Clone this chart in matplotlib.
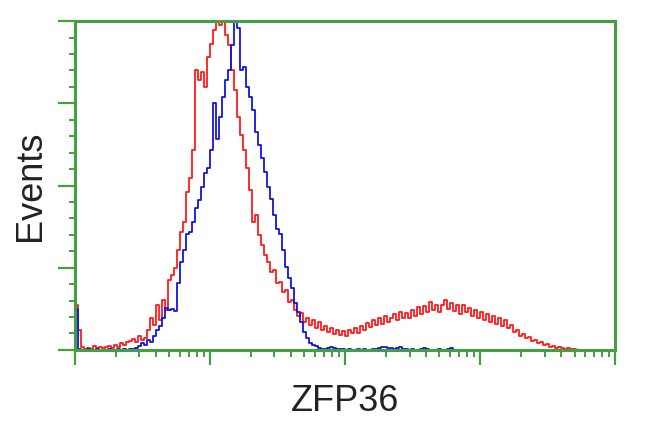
import numpy as np
import matplotlib
matplotlib.use("Agg")
import matplotlib.pyplot as plt
from matplotlib.ticker import LogLocator, MultipleLocator, NullFormatter

# histogram counts (% of max), one value per log-spaced channel bin, 4 decades / 180 bins
red_counts = [
    13.7, 6.1, 0.9, 0.3, 0.6, 0.3, 1.2, 0.6, 0.9, 0.6,
    0.9, 1.2, 0.6, 1.5, 0.9, 2.1, 1.5, 2.4, 2.7, 3.3,
    2.4, 4.3, 3.0, 3.6, 6.1, 9.7, 7.6, 13.7, 9.1, 15.2,
    12.2, 21.3, 22.8, 24.9, 30.4, 35.9, 38.9, 48.0, 52.3, 60.8,
    85.0, 82.1, 84.5, 80.0, 89.0, 93.0, 97.3, 102, 98.8, 102,
    95.7, 92.7, 85.1, 79.0, 70.8, 65.3, 60.8, 55.3, 48.6, 38.9,
    41.0, 35.0, 31.9, 28.9, 26.7, 23.7, 24.3, 20.4, 20.7, 17.6,
    18.2, 14.6, 15.2, 12.2, 10.3, 11.2, 8.5, 9.7, 7.6, 9.1,
    6.7, 8.5, 6.1, 7.3, 5.5, 6.7, 4.9, 6.1, 4.6, 5.8,
    4.3, 6.1, 5.2, 6.7, 5.2, 7.3, 6.1, 8.2, 7.0, 9.1,
    7.6, 9.7, 7.9, 10.3, 8.5, 9.7, 10.9, 9.1, 11.6, 9.7,
    11.2, 9.7, 12.2, 10.3, 13.1, 10.9, 13.4, 11.6, 14.6, 12.2,
    13.7, 11.6, 13.7, 15.2, 12.5, 14.3, 11.9, 13.7, 10.9, 13.7,
    11.6, 12.8, 10.3, 12.2, 9.7, 11.6, 9.1, 10.9, 8.5, 10.3,
    7.9, 9.7, 7.3, 9.1, 6.7, 7.6, 5.5, 6.1, 4.3, 4.9,
    3.6, 4.0, 2.7, 3.0, 2.1, 2.4, 1.5, 1.8, 0.9, 1.2,
    0.6, 0.9, 0.6, 0.3, 0.6, 0.3, 0.2, 0.0,
]

blue_counts = [
    12.5, 0.3, 0.0, 0.0, 0.2, 0.0, 0.0, 0.2, 0.0, 0.0,
    0.0, 0.2, 0.0, 0.0, 0.2, 0.0, 0.2, 0.0, 0.3, 0.3,
    0.6, 1.2, 2.1, 1.5, 3.0, 2.4, 4.3, 6.1, 7.3, 9.7,
    12.8, 12.2, 12.5, 11.9, 20.4, 26.7, 30.4, 35.3, 35.9, 38.9,
    43.2, 45.6, 49.5, 53.8, 55.3, 60.8, 75.0, 64.1, 70.8, 76.9,
    82.1, 85.1, 92.7, 102, 98.0, 85.1, 86.0, 80.0, 76.9, 72.9,
    66.3, 62.3, 58.4, 54.1, 49.5, 45.9, 41.0, 36.8, 35.3, 30.4,
    25.2, 21.9, 18.8, 14.3, 11.6, 8.5, 5.5, 3.6, 2.1, 1.5,
    1.2, 0.6, 0.3, 0.3, 0.6, 0.9, 0.6, 0.3, 0.2, 0.2,
    0.0, 0.2, 0.0, 0.0, 0.2, 0.0, 0.2, 0.0, 0.0, 0.2,
    0.3, 0.6, 0.9, 0.9, 0.6, 0.6, 0.3, 0.6, 0.9, 0.3,
    0.2, 0.0, 0.3, 0.0, 0.0, 0.2, 0.6, 0.3, 0.0, 0.0,
    0.0, 0.2, 0.0, 0.0, 0.3, 0.5, 0.0, 0.0,
]

n_bins = 180
decades = 4
green = "#42a042"

red_x = 10 ** ((np.arange(len(red_counts)) + 0.5) * decades / n_bins)
blue_x = 10 ** ((np.arange(len(blue_counts)) + 0.5) * decades / n_bins)

fig = plt.figure(figsize=(6.5, 4.32), dpi=100)
ax = fig.add_axes([0.1154, 0.19, 0.831, 0.761])

ax.step(red_x, red_counts, where="mid", color="#ff1a1a", lw=1.3)
ax.step(blue_x, blue_counts, where="mid", color="#1414e0", lw=1.3)

ax.set_xscale("log")
ax.set_xlim(1, 10 ** decades)
ax.set_ylim(0, 100)

for s in ax.spines.values():
    s.set_color(green)
    s.set_linewidth(2.2)

ax.xaxis.set_major_locator(LogLocator(base=10, numticks=10))
ax.xaxis.set_minor_locator(LogLocator(base=10, subs=np.arange(2, 10), numticks=50))
ax.yaxis.set_major_locator(MultipleLocator(25))
ax.yaxis.set_minor_locator(MultipleLocator(5))
ax.xaxis.set_major_formatter(NullFormatter())
ax.xaxis.set_minor_formatter(NullFormatter())
ax.yaxis.set_major_formatter(NullFormatter())

ax.tick_params(axis="x", which="major", direction="out", length=11, width=1.6, color=green)
ax.tick_params(axis="x", which="minor", direction="out", length=5, width=1.4, color=green)
ax.tick_params(axis="y", which="major", direction="out", length=12, width=1.6, color=green)
ax.tick_params(axis="y", which="minor", direction="out", length=4.5, width=1.4, color=green)

ax.set_xlabel("ZFP36", fontsize=26, family="Liberation Sans", color="#222222", labelpad=10)
ax.set_ylabel("Events", fontsize=26, family="Liberation Sans", color="#222222", labelpad=4)

fig.savefig("out.png", dpi=100)
